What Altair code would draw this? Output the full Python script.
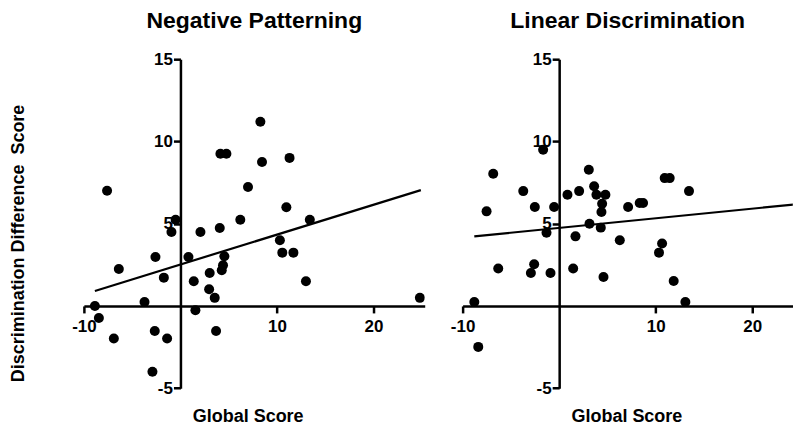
import altair as alt
import pandas as pd

# ---- data ----
np_x = [8.28, 4.14, 4.76, 8.45, 11.3, -7.6, 7.0, 10.97, 6.2, 13.4, -0.5, -0.93, 2.07,
        4.07, 10.3, 10.55, 11.7, 4.55, 4.41, 4.28, 0.83, -2.59, -6.38, -1.72, 3.03,
        1.38, 2.97, 13.0, 3.55, 24.8, -3.72, -8.86, -8.45, 1.55, -6.9, -2.66, -1.38,
        3.69, -2.9]
np_y = [11.2, 9.25, 9.25, 8.75, 9.0, 7.0, 7.23, 6.0, 5.24, 5.24, 5.24, 4.5, 4.5,
        4.74, 3.99, 3.24, 3.24, 3.02, 2.47, 2.17, 2.98, 2.98, 2.25, 1.72, 2.0,
        1.5, 1.01, 1.5, 0.49, 0.49, 0.24, 0.0, -0.73, -0.26, -1.98, -1.52, -1.98,
        -1.52, -4.0]

ld_x = [-1.66, -6.83, 3.07, 10.93, 11.45, -3.72, 2.07, 13.45, 3.62, 0.86, 3.86, 4.79,
        4.45, -7.52, -2.52, -0.52, 7.14, 8.34, 8.69, 4.38, 3.14, 4.31, -1.31, 1.69,
        6.28, 10.66, 10.34, -6.31, -2.59, -2.93, -0.9, 1.45, 4.59, 11.86, -8.79,
        13.07, -8.38, 24.75]
ld_y = [9.49, 8.04, 8.28, 7.77, 7.77, 6.98, 6.98, 6.98, 7.27, 6.76, 6.76, 6.76,
        6.21, 5.75, 6.01, 6.01, 6.01, 6.26, 6.26, 5.71, 5.0, 4.76, 4.45, 4.23,
        3.99, 3.79, 3.24, 2.27, 2.53, 2.0, 2.0, 2.27, 1.76, 1.52, 0.24,
        0.24, -2.49, 4.6]

# fitted regression lines (end points)
np_fit_x = [-8.86, 24.9]
np_fit_y = [0.91, 7.04]
ld_fit_x = [-8.79, 24.9]
ld_fit_y = [4.23, 6.20]

titles = ["Negative Patterning", "Linear Discrimination"]
x_ticks = [-10, 10, 20]
y_ticks = [-5, 5, 10, 15]
y_title = "Discrimination Difference\u00a0\u00a0Score"
x_title = "Global Score"

FONT = "Liberation Sans"
PXU = 9.667          # pixels per x unit
H = 329.4            # plot height
Y0_OFF = -(H * 5 / 20)   # x axis sits at y = 0
LABEL = "'' + datum.value"


def panel(title, xs, ys, fx, fy, xmax, show_ytitle):
    w = (xmax + 10) * PXU
    pts = pd.DataFrame({"x": xs, "y": ys})
    fit = pd.DataFrame({"x": fx, "y": fy})
    xs_ = alt.Scale(domain=[-10, xmax], nice=False, zero=False)
    ys_ = alt.Scale(domain=[-5, 15], nice=False, zero=False)
    xaxis = alt.Axis(values=x_ticks, offset=Y0_OFF, title=x_title,
                     titleX=164, titleY=116, titleBaseline="alphabetic",
                     titleAlign="center", labelPadding=6, labelFlush=False,
                     labelExpr=LABEL)
    yargs = dict(values=y_ticks, offset=-10 * PXU, labelPadding=1, labelFlush=False,
                 labelExpr=LABEL)
    if show_ytitle:
        yaxis = alt.Axis(title=y_title, titleX=-162, titleY=184, titleAngle=270,
                         titleBaseline="middle", titleAlign="center",
                         titleFontSize=18, **yargs)
    else:
        yaxis = alt.Axis(title=None, **yargs)
    x = alt.X("x:Q", scale=xs_, axis=xaxis)
    y = alt.Y("y:Q", scale=ys_, axis=yaxis)
    dots = alt.Chart(pts).mark_circle(size=100, color="black", opacity=1, clip=True).encode(x=x, y=y)
    line = alt.Chart(fit).mark_line(color="black", strokeWidth=2.2, clip=True).encode(x=x, y=y)
    return alt.layer(line, dots).properties(
        width=w, height=H,
        title=alt.TitleParams(title, fontSize=23, font=FONT, fontWeight="bold",
                              anchor="middle", baseline="alphabetic", offset=-1, color="black"),
    )


p1 = panel(titles[0], np_x, np_y, np_fit_x, np_fit_y, 25.3, True)
p2 = panel(titles[1], ld_x, ld_y, ld_fit_x, ld_fit_y, 24.2, False)

chart = alt.hconcat(p1, p2, spacing=37.2, bounds="flush").properties(
    padding={"left": 9, "top": 10, "right": 0, "bottom": 0},
    background="white",
).configure_view(stroke=None).configure_axis(
    grid=False, domainColor="black", domainWidth=2.5, tickColor="black",
    tickWidth=2.5, tickSize=7, labelFont=FONT, labelFontSize=17,
    labelFontWeight="bold", labelColor="black", titleFont=FONT,
    titleFontSize=18, titleFontWeight="bold", titleColor="black",
)

chart.save("out.html", embed_options={"renderer": "svg", "actions": False})
